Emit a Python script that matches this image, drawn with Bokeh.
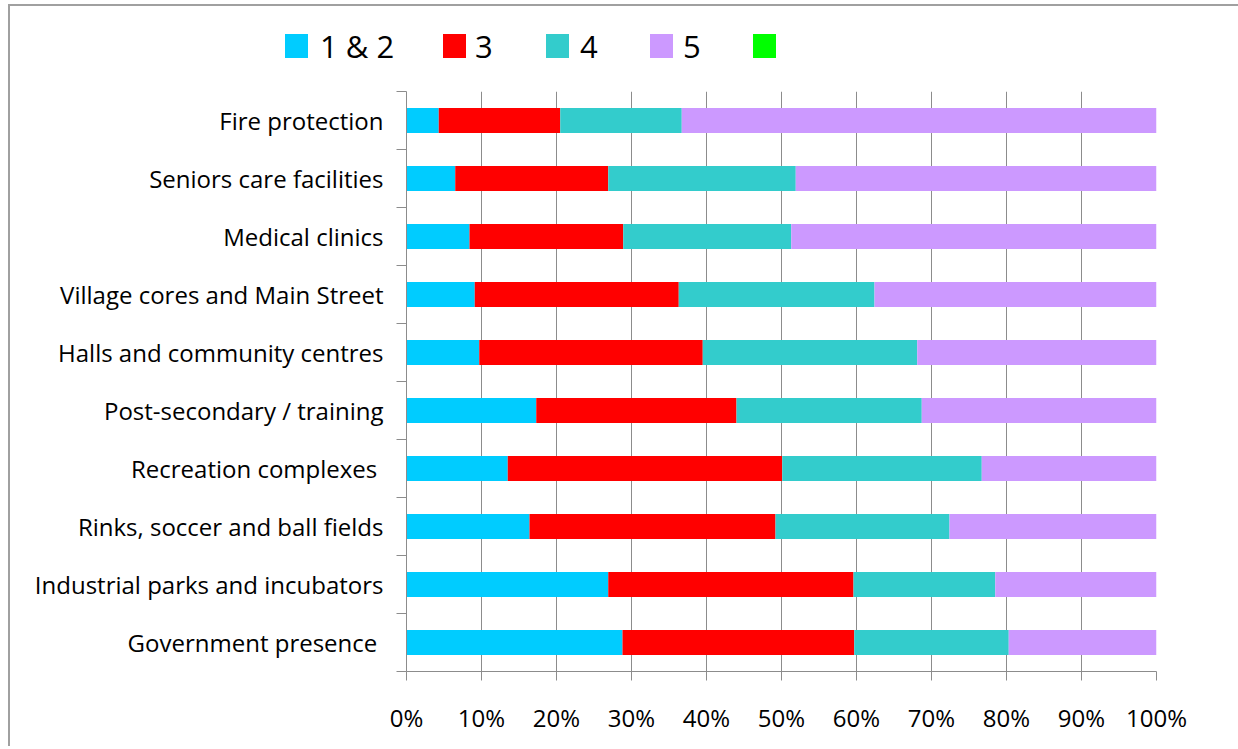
from bokeh.plotting import figure
from bokeh.layouts import column
from bokeh.models import ColumnDataSource, FixedTicker, Range1d, Div
from bokeh.embed import file_html
from bokeh.resources import INLINE

# ---- data (top to bottom) ----
categories = [
    "Fire protection",
    "Seniors care facilities",
    "Medical clinics",
    "Village cores and Main Street",
    "Halls and community centres",
    "Post-secondary / training",
    "Recreation complexes ",
    "Rinks, soccer and ball fields",
    "Industrial parks and incubators",
    "Government presence ",
]
share_1_2 = [4.3, 6.5, 8.4, 9.1, 9.7, 17.3, 13.5, 16.4, 26.9, 28.8]
share_3 = [16.2, 20.4, 20.5, 27.2, 29.8, 26.7, 36.6, 32.8, 32.7, 30.9]
share_4 = [16.2, 25.0, 22.4, 26.1, 28.6, 24.7, 26.6, 23.2, 18.9, 20.6]
share_5 = [63.3, 48.1, 48.7, 37.6, 31.9, 31.3, 23.3, 27.6, 21.5, 19.7]
share_blank = [0, 0, 0, 0, 0, 0, 0, 0, 0, 0]
series_labels = ["1 & 2", "3", "4", "5", ""]
x_ticks = [0, 10, 20, 30, 40, 50, 60, 70, 80, 90, 100]
x_tick_labels = ["0%", "10%", "20%", "30%", "40%", "50%", "60%", "70%", "80%", "90%", "100%"]

colors = ["#00CCFF", "#FF0000", "#33CCCC", "#CC99FF", "#00FF00"]
FONT = "Open Sans"
FS = "24px"
GRAY = "#8c8c8c"
W = 1228

n = len(categories)
ypos = [n - i - 0.5 for i in range(n)]

src = ColumnDataSource(dict(y=ypos, s12=share_1_2, s3=share_3, s4=share_4,
                            s5=share_5, sg=share_blank))

# ---- main chart ----
p = figure(width=W, height=670, output_backend="svg", toolbar_location=None,
           x_range=Range1d(0, 100), y_range=Range1d(0, n),
           min_border_left=396, min_border_right=82, min_border_top=15,
           min_border_bottom=75)
p.outline_line_color = None
p.background_fill_color = "white"
p.border_fill_color = "white"

rs = p.hbar_stack(["s12", "s3", "s4", "s5", "sg"], y="y", height=0.43,
                  fill_color=colors, line_color=None, source=src)

p.xaxis.ticker = FixedTicker(ticks=x_ticks)
p.xaxis.major_label_overrides = {t: l for t, l in zip(x_ticks, x_tick_labels)}
p.xaxis.major_tick_out = 9
p.xaxis.major_tick_in = 0
p.xaxis.minor_tick_line_color = None
p.xaxis.major_tick_line_color = GRAY
p.xaxis.axis_line_color = GRAY
p.xaxis.major_label_standoff = 20
p.xaxis.major_label_text_font = FONT
p.xaxis.major_label_text_font_size = FS
p.xaxis.major_label_text_color = "black"

p.yaxis.ticker = FixedTicker(ticks=ypos, minor_ticks=list(range(n + 1)))
p.yaxis.major_label_overrides = {y: c for y, c in zip(ypos, categories)}
p.yaxis.major_tick_line_color = None
p.yaxis.major_tick_out = 0
p.yaxis.major_tick_in = 0
p.yaxis.minor_tick_out = 10
p.yaxis.minor_tick_in = 0
p.yaxis.minor_tick_line_color = GRAY
p.yaxis.axis_line_color = GRAY
p.yaxis.major_label_standoff = 13
p.yaxis.major_label_text_font = FONT
p.yaxis.major_label_text_font_size = FS
p.yaxis.major_label_text_color = "black"

p.xgrid.grid_line_color = GRAY
p.xgrid.ticker = FixedTicker(ticks=x_ticks)
p.ygrid.grid_line_color = None

# ---- legend strip (HTML) ----
swatch_left = [275, 433, 536, 640, 743]
label_left = [310, 465, 570, 673, 0]
parts = []
for c, lab, sx, lx in zip(colors, series_labels, swatch_left, label_left):
    parts.append(
        f'<span style="position:absolute;left:{sx}px;top:28px;width:23px;'
        f'height:24px;background:{c};"></span>')
    if lab:
        txt = lab.replace("&", "&amp;")
        parts.append(
            f'<span style="position:absolute;left:{lx}px;top:28px;'
            f'line-height:24px;white-space:nowrap;">{txt}</span>')
html = (f'<div style="position:relative;width:{W}px;height:70px;'
        f'font-family:\'{FONT}\';font-size:31px;color:black;">'
        + "".join(parts) + '</div>')
lp = Div(text=html, width=W, height=70, margin=0)

layout = column(lp, p, spacing=0)
layout.styles = {"margin-left": "8px", "margin-top": "4px",
                 "border-left": "2px solid #a0a0a0", "border-top": "2px solid #a0a0a0"}

open("out.html", "w").write(file_html(layout, INLINE))
